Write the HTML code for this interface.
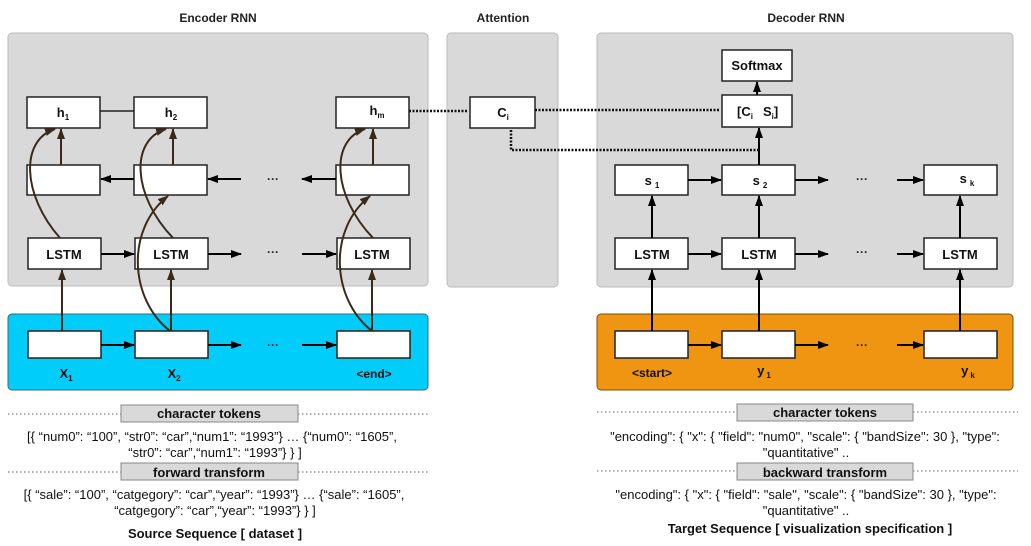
<!DOCTYPE html>
<html><head><meta charset="utf-8"><style>body{margin:0;background:#fff}svg{display:block}</style></head><body>
<svg width="1031" height="546" viewBox="0 0 1031 546" xmlns="http://www.w3.org/2000/svg" font-family="Liberation Sans, Arial, sans-serif">
<defs>
<marker id="a" markerWidth="11" markerHeight="10" refX="10" refY="5" orient="auto" markerUnits="userSpaceOnUse"><path d="M0,1 L11,5 L0,9 z" fill="#000"/></marker>
<marker id="b" markerWidth="11" markerHeight="10" refX="10" refY="5" orient="auto" markerUnits="userSpaceOnUse"><path d="M0,1 L11,5 L0,9 z" fill="#3a2a1a"/></marker>
</defs>
<g font-weight="bold" font-size="12" text-anchor="middle" fill="#222">
<text x="218" y="22">Encoder RNN</text><text x="503" y="22">Attention</text><text x="806" y="22">Decoder RNN</text></g>
<rect x="8" y="33" width="420" height="253" rx="4" fill="#d9d9d9" stroke="#bbb"/>
<rect x="447" y="33" width="111" height="254" rx="4" fill="#d9d9d9" stroke="#bbb"/>
<rect x="597" y="33" width="416" height="254" rx="4" fill="#d9d9d9" stroke="#bbb"/>
<rect x="8" y="314" width="420" height="76" rx="4" fill="#00cdf9" stroke="#3a6a7a"/>
<rect x="597" y="314" width="416" height="76" rx="4" fill="#ef9512" stroke="#7a4a10"/>
<g fill="#fff" stroke="#222" stroke-width="1.5">
<rect x="27" y="97" width="73" height="31"/><rect x="134" y="97" width="73" height="31"/><rect x="336" y="97" width="73" height="31"/>
<rect x="27" y="165" width="73" height="30"/><rect x="134" y="165" width="73" height="30"/><rect x="336" y="165" width="73" height="30"/>
<rect x="28" y="238" width="73" height="31"/><rect x="135" y="238" width="73" height="31"/><rect x="337" y="238" width="73" height="31"/>
<rect x="28" y="331" width="73" height="27"/><rect x="135" y="331" width="73" height="27"/><rect x="337" y="331" width="73" height="27"/>
<rect x="470" y="97" width="65" height="31"/>
<rect x="722" y="50" width="70" height="31"/><rect x="722" y="95" width="70" height="32"/>
<rect x="615" y="165" width="73" height="30"/><rect x="722" y="165" width="73" height="30"/><rect x="924" y="165" width="73" height="30"/>
<rect x="615" y="238" width="73" height="31"/><rect x="722" y="238" width="73" height="31"/><rect x="924" y="238" width="73" height="31"/>
<rect x="615" y="331" width="73" height="27"/><rect x="722" y="331" width="73" height="27"/><rect x="924" y="331" width="73" height="27"/>
</g>
<g font-weight="bold" font-size="13" text-anchor="middle" fill="#111">
<text x="63" y="117">h<tspan font-size="8" dy="3">1</tspan></text>
<text x="171" y="117">h<tspan font-size="8" dy="3">2</tspan></text>
<text x="377" y="115">h<tspan font-size="8" dy="3">m</tspan></text>
<text x="64" y="259">LSTM</text><text x="171" y="259">LSTM</text><text x="372" y="259">LSTM</text>
<text x="66" y="378">X<tspan font-size="8" dy="3">1</tspan></text>
<text x="174" y="378">X<tspan font-size="8" dy="3">2</tspan></text>
<text x="374" y="378" font-size="12">&lt;end&gt;</text>
<text x="503" y="117">C<tspan font-size="8" dy="3">i</tspan></text>
<text x="757" y="70">Softmax</text>
<text x="737" y="116" text-anchor="start">[C<tspan font-size="8" dy="3">i</tspan><tspan dx="10" dy="-3">S</tspan><tspan font-size="8" dy="3">i</tspan><tspan dy="-3">]</tspan></text>
<text x="652" y="185">s<tspan font-size="8" dy="3" dx="3">1</tspan></text>
<text x="760" y="185">s<tspan font-size="8" dy="3" dx="3">2</tspan></text>
<text x="967" y="183">s<tspan font-size="8" dy="3" dx="3">k</tspan></text>
<text x="652" y="259">LSTM</text><text x="759" y="259">LSTM</text><text x="960" y="259">LSTM</text>
<text x="652" y="377" font-size="12">&lt;start&gt;</text>
<text x="764" y="375">y<tspan font-size="8" dy="3" dx="2">1</tspan></text>
<text x="968" y="375">y<tspan font-size="8" dy="3" dx="2">k</tspan></text>
</g>
<g font-size="12" font-weight="bold" fill="#222" text-anchor="middle">
<text x="273" y="183">···</text><text x="273" y="256">···</text><text x="273" y="349">···</text>
<text x="862" y="183">···</text><text x="862" y="256">···</text><text x="862" y="349">···</text></g>
<g stroke="#000" stroke-width="2" fill="none" marker-end="url(#a)">
<line x1="101" y1="254" x2="134" y2="254"/><line x1="208" y1="254" x2="241" y2="254"/><line x1="302" y1="254" x2="336" y2="254"/>
<line x1="101" y1="345" x2="134" y2="345"/><line x1="208" y1="345" x2="241" y2="345"/><line x1="302" y1="345" x2="336" y2="345"/>
<line x1="134" y1="179" x2="101" y2="179"/><line x1="241" y1="179" x2="208" y2="179"/><line x1="336" y1="179" x2="302" y2="179"/>
<line x1="688" y1="180" x2="721" y2="180"/><line x1="795" y1="180" x2="828" y2="180"/><line x1="897" y1="180" x2="923" y2="180"/>
<line x1="688" y1="254" x2="721" y2="254"/><line x1="795" y1="254" x2="828" y2="254"/><line x1="897" y1="254" x2="923" y2="254"/>
<line x1="688" y1="345" x2="721" y2="345"/><line x1="795" y1="345" x2="828" y2="345"/><line x1="897" y1="345" x2="923" y2="345"/>
<line x1="652" y1="331" x2="652" y2="270"/><line x1="759" y1="331" x2="759" y2="270"/><line x1="960" y1="331" x2="960" y2="270"/>
<line x1="652" y1="238" x2="652" y2="196"/><line x1="759" y1="238" x2="759" y2="196"/><line x1="960" y1="238" x2="960" y2="196"/>
<line x1="759" y1="165" x2="759" y2="128"/><line x1="757" y1="95" x2="757" y2="82"/>
</g>
<line x1="100" y1="111" x2="134" y2="111" stroke="#222" stroke-width="1.5"/>
<g stroke="#3a2a1a" stroke-width="2" fill="none" marker-end="url(#b)">
<line x1="62" y1="331" x2="62" y2="270"/><line x1="171" y1="331" x2="171" y2="270"/><line x1="372" y1="331" x2="372" y2="270"/>
<line x1="61" y1="165" x2="61" y2="129"/><line x1="173" y1="165" x2="173" y2="129"/><line x1="373" y1="165" x2="373" y2="129"/>
<path d="M60,238 C22,195 20,140 55,129"/>
<path d="M173,238 C132,195 130,140 166,129"/>
<path d="M373,238 C332,195 330,140 365,129"/>
<path d="M170,331 C130,300 125,230 168,196"/>
<path d="M372,331 C332,300 327,230 370,196"/>
</g>
<g stroke="#111" stroke-width="2.5" stroke-dasharray="2,1.5" fill="none">
<path d="M409,111 H468"/><path d="M535,110 H720"/>
<path d="M759,150 H511 V130"/>
</g>
<g stroke="#666" stroke-width="1" stroke-dasharray="1.5,2.5">
<line x1="8" y1="414" x2="121" y2="414"/><line x1="298" y1="414" x2="430" y2="414"/>
<line x1="8" y1="472" x2="121" y2="472"/><line x1="298" y1="472" x2="430" y2="472"/>
<line x1="597" y1="412" x2="737" y2="412"/><line x1="913" y1="412" x2="1018" y2="412"/>
<line x1="597" y1="471" x2="737" y2="471"/><line x1="913" y1="471" x2="1018" y2="471"/>
</g>
<g fill="#d9d9d9" stroke="#888"><rect x="121" y="405" width="177" height="17"/><rect x="121" y="463" width="177" height="17"/>
<rect x="737" y="404" width="176" height="17"/><rect x="737" y="463" width="176" height="17"/></g>
<g font-size="13" text-anchor="middle" fill="#111">
<text x="209" y="418" font-weight="bold">character tokens</text>
<text x="209" y="477" font-weight="bold">forward transform</text>
<text x="825" y="417" font-weight="bold">character tokens</text>
<text x="825" y="477" font-weight="bold">backward transform</text>
<text x="212" y="441">[{ “num0”: “100”, “str0”: “car”,“num1”: “1993”} … {“num0”: “1605”,</text>
<text x="215" y="457">“str0”: “car”,“num1”: “1993”} } ]</text>
<text x="214" y="499">[{ “sale”: “100”, “catgegory”: “car”,“year”: “1993”} … {“sale”: “1605”,</text>
<text x="215" y="515">“catgegory”: “car”,“year”: “1993”} } ]</text>
<text x="215" y="538" font-weight="bold">Source Sequence [ dataset ]</text>
<text x="805" y="441">"encoding": { "x": { "field": "num0", "scale": { "bandSize": 30 }, "type":</text>
<text x="806" y="457">"quantitative" ..</text>
<text x="806" y="499">"encoding": { "x": { "field": "sale", "scale": { "bandSize": 30 }, "type":</text>
<text x="806" y="515">"quantitative" ..</text>
<text x="810" y="533" font-weight="bold">Target Sequence [ visualization specification ]</text>
</g>
</svg>
</body></html>
